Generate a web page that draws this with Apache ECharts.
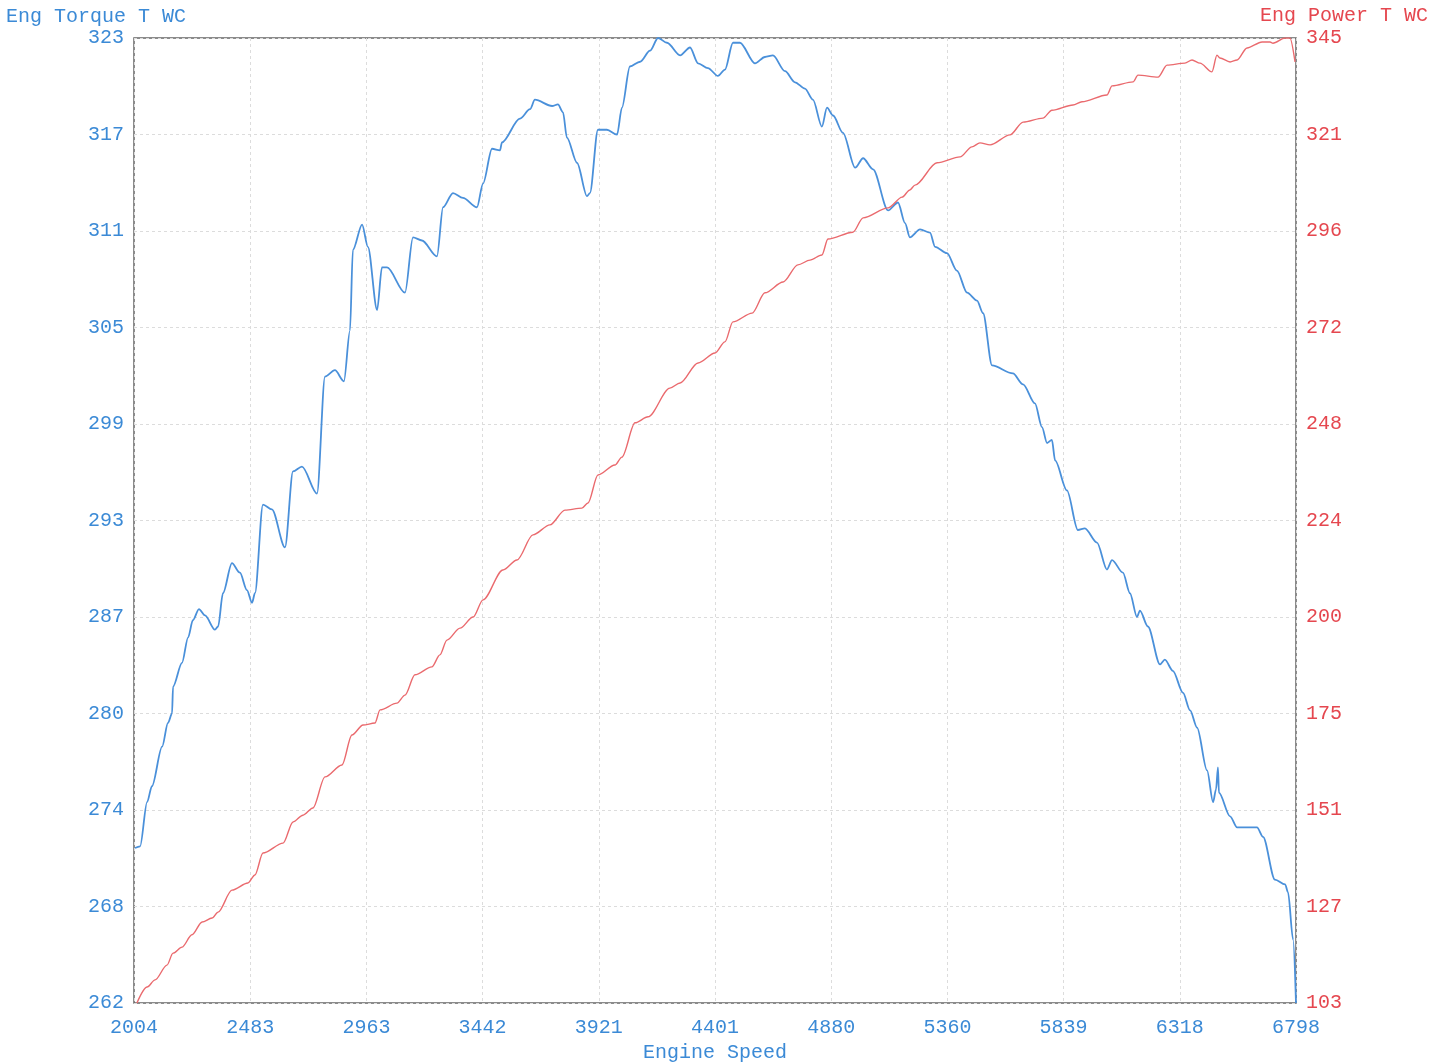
<!DOCTYPE html>
<html>
<head>
<meta charset="utf-8">
<script src="https://cdn.jsdelivr.net/npm/echarts@6/dist/echarts.min.js"></script>
<style>
  html, body { margin: 0; padding: 0; background: #fff; }
  #main { width: 1442px; height: 1062px; }
</style>
</head>
<body>
<div id="main"></div>
<script>
// axis ranges and printed tick labels
const xMin = 2004, xMax = 6798
const xLabels = ['2004', '2483', '2963', '3442', '3921', '4401', '4880', '5360', '5839', '6318', '6798']
const tMin = 262, tMax = 323
const torqueLabels = ['262', '268', '274', '280', '287', '293', '299', '305', '311', '317', '323']
const pMin = 103, pMax = 345
const powerLabels = ['103', '127', '151', '175', '200', '224', '248', '272', '296', '321', '345']

// Eng Torque T WC
const torqueRpm = [2008, 2029, 2058, 2078, 2120, 2144, 2161, 2165, 2202, 2227, 2247, 2272, 2297, 2338, 2351, 2371, 2408, 2441, 2470, 2491,
  2503, 2536, 2573, 2627, 2660, 2697, 2759, 2792, 2833, 2870, 2895, 2907, 2945, 2969, 3007, 3027, 3048, 3122, 3155, 3192,
  3254, 3279, 3320, 3361, 3419, 3444, 3481, 3514, 3522, 3596, 3638, 3658, 3729, 3753, 3774, 3790, 3832, 3873, 3885, 3918,
  3955, 3997, 4017, 4050, 4092, 4133, 4166, 4203, 4257, 4298, 4331, 4372, 4413, 4442, 4475, 4504, 4566, 4607, 4640, 4690,
  4731, 4772, 4805, 4842, 4863, 4888, 4929, 4979, 5012, 5053, 5115, 5156, 5185, 5205, 5247, 5288, 5309, 5358, 5399, 5441,
  5482, 5507, 5544, 5630, 5672, 5721, 5750, 5771, 5791, 5804, 5853, 5898, 5927, 5977, 6018, 6039, 6084, 6113, 6142, 6154,
  6187, 6237, 6257, 6290, 6332, 6361, 6390, 6431, 6456, 6468, 6476, 6480, 6526, 6555, 6596, 6637, 6662, 6711, 6753, 6765,
  6786, 6798]
const torque = [271.8, 271.9, 274.7, 275.7, 278.2, 279.7, 280.3, 282.0, 283.5, 285.1, 286.2, 286.9, 286.5, 285.6, 285.8, 287.9, 289.8, 289.2, 288.1, 287.3,
  287.9, 293.5, 293.2, 290.8, 295.6, 295.9, 294.2, 301.6, 302.0, 301.3, 304.5, 309.6, 311.2, 309.8, 305.8, 308.5, 308.5, 306.9, 310.4, 310.2,
  309.2, 312.3, 313.2, 312.9, 312.3, 313.8, 316.0, 315.9, 316.4, 317.9, 318.5, 319.1, 318.7, 318.8, 318.3, 316.7, 315.1, 313.0, 313.2, 317.2,
  317.2, 316.9, 318.6, 321.2, 321.5, 322.2, 323.0, 322.7, 321.9, 322.4, 321.4, 321.1, 320.6, 321.0, 322.7, 322.7, 321.4, 321.8, 321.9, 320.9,
  320.2, 319.8, 319.1, 317.4, 318.6, 318.1, 317.0, 314.8, 315.4, 314.7, 312.1, 312.6, 311.3, 310.4, 310.9, 310.7, 309.8, 309.4, 308.3, 306.9,
  306.4, 305.6, 302.3, 301.8, 301.1, 299.9, 298.4, 297.4, 297.6, 296.3, 294.4, 291.9, 292.0, 291.1, 289.4, 290.0, 289.2, 287.9, 286.4, 286.8,
  285.8, 283.4, 283.7, 283.0, 281.6, 280.5, 279.4, 276.7, 274.7, 275.5, 276.9, 275.3, 273.8, 273.1, 273.1, 273.1, 272.5, 269.8, 269.5, 269.0,
  266.0, 262.0]

// Eng Power T WC
const powerRpm = [2016, 2058, 2091, 2140, 2165, 2202, 2243, 2285, 2326, 2351, 2408, 2474, 2503, 2536, 2619, 2660, 2701, 2742, 2792, 2862,
  2903, 2949, 2998, 3019, 3089, 3122, 3163, 3233, 3266, 3295, 3349, 3403, 3444, 3526, 3584, 3650, 3720, 3782, 3852, 3877,
  3918, 3988, 4017, 4071, 4125, 4215, 4257, 4331, 4401, 4442, 4475, 4554, 4607, 4682, 4743, 4793, 4842, 4867, 4970, 5012,
  5115, 5173, 5205, 5226, 5317, 5412, 5461, 5494, 5536, 5618, 5672, 5754, 5791, 5878, 5915, 6018, 6039, 6126, 6146, 6229,
  6266, 6340, 6369, 6402, 6451, 6472, 6484, 6526, 6555, 6596, 6658, 6691, 6703, 6753, 6773, 6794]
const power = [103.0, 107.0, 108.8, 112.5, 115.5, 117.0, 120.1, 123.3, 124.3, 125.8, 131.3, 133.1, 135.1, 140.6, 143.1, 148.4, 150.1, 151.9, 159.7, 162.7,
  170.2, 172.7, 173.2, 176.5, 178.2, 180.2, 185.3, 187.3, 190.3, 194.0, 197.0, 199.8, 204.1, 211.6, 214.1, 220.4, 222.9, 226.6, 227.1, 228.4,
  235.4, 237.9, 239.9, 248.5, 250.0, 257.2, 258.5, 263.5, 266.0, 268.8, 273.8, 276.0, 281.1, 283.8, 288.1, 289.3, 290.6, 294.6, 296.3, 299.9,
  302.4, 305.1, 306.9, 308.1, 313.7, 315.2, 317.7, 318.7, 318.2, 320.7, 323.9, 324.9, 326.9, 328.2, 329.0, 330.7, 333.0, 334.0, 335.7, 335.2,
  338.2, 338.7, 339.5, 338.7, 336.5, 340.7, 340.0, 339.0, 339.5, 342.5, 344.0, 344.0, 343.7, 345.0, 345.0, 339.0]

const blueText = '#3b8ad6'
const redText = '#e5474f'
const mono = '"Liberation Mono", "DejaVu Sans Mono", monospace'

const chart = echarts.init(document.getElementById('main'))

const pick = (labels, min, step) => v => labels[Math.round((v - min) / step)] || ''

chart.setOption({
  backgroundColor: '#fff',
  animation: false,
  grid: {
    left: 134, right: 146, top: 38, bottom: 59,
    outerBoundsMode: 'none',
    show: true, borderColor: '#666', borderWidth: 1.5
  },
  graphic: [
    { type: 'text', left: 6, top: 7, style: { text: 'Eng Torque T WC', fill: blueText, font: '20px ' + mono } },
    { type: 'text', right: 14, top: 6, style: { text: 'Eng Power T WC', fill: redText, font: '20px ' + mono } }
  ],
  xAxis: {
    type: 'value',
    min: xMin,
    max: xMax,
    interval: (xMax - xMin) / 10,
    name: 'Engine Speed',
    nameLocation: 'middle',
    nameGap: 37,
    nameTextStyle: { color: blueText, fontFamily: mono, fontSize: 20 },
    axisLine: { show: false },
    axisTick: { show: false },
    axisLabel: { color: blueText, fontFamily: mono, fontSize: 20, margin: 15, formatter: pick(xLabels, xMin, (xMax - xMin) / 10) },
    splitLine: { show: true, lineStyle: { color: '#dcdcdc', type: [3, 3] } }
  },
  yAxis: [
    {
      type: 'value',
      min: tMin,
      max: tMax,
      interval: (tMax - tMin) / 10,
      position: 'left',
      axisLine: { show: false },
      axisTick: { show: false },
      axisLabel: { color: blueText, fontFamily: mono, fontSize: 20, margin: 10, formatter: pick(torqueLabels, tMin, (tMax - tMin) / 10) },
      splitLine: { show: true, lineStyle: { color: '#dcdcdc', type: [3, 3] } }
    },
    {
      type: 'value',
      min: pMin,
      max: pMax,
      interval: (pMax - pMin) / 10,
      position: 'right',
      axisLine: { show: false },
      axisTick: { show: false },
      axisLabel: { color: redText, fontFamily: mono, fontSize: 20, margin: 10, formatter: pick(powerLabels, pMin, (pMax - pMin) / 10) },
      splitLine: { show: false }
    }
  ],
  series: [
    {
      name: 'Eng Torque T WC',
      type: 'line',
      yAxisIndex: 0,
      showSymbol: false,
      smooth: 0.3,
      smoothMonotone: 'x',
      lineStyle: { color: '#4a90da', width: 1.8 },
      data: torqueRpm.map((r, i) => [r, torque[i]])
    },
    {
      name: 'Eng Power T WC',
      type: 'line',
      yAxisIndex: 1,
      showSymbol: false,
      smooth: 0.3,
      smoothMonotone: 'x',
      lineStyle: { color: '#ea6a6e', width: 1.4 },
      data: powerRpm.map((r, i) => [r, power[i]])
    }
  ]
})
</script>
</body>
</html>
